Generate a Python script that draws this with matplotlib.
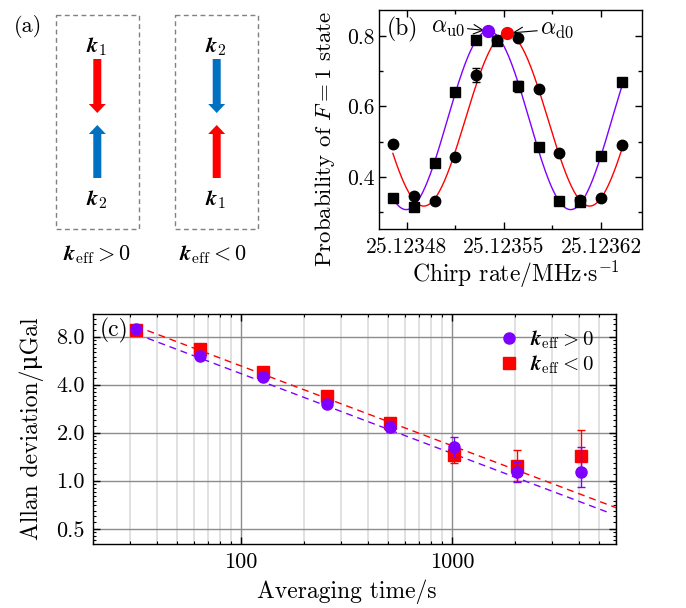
import numpy as np
import matplotlib.pyplot as plt
from matplotlib import patches
from matplotlib.lines import Line2D
from matplotlib.ticker import FixedLocator, MultipleLocator, NullFormatter, FormatStrFormatter, LogLocator

plt.rcParams['font.family'] = ['cmr10', 'DejaVu Serif']
plt.rcParams['mathtext.fontset'] = 'cm'
plt.rcParams['axes.unicode_minus'] = False
plt.rcParams['axes.formatter.use_mathtext'] = True

RED = '#ff0000'
BLUE = '#0070c0'
PURPLE = '#7f00ff'

# (b) chirp scan, F=1 population for both k_eff directions
chirp_rate = [25.12347, 25.123485, 25.12350, 25.123515, 25.12353, 25.123545,
              25.12356, 25.123575, 25.12359, 25.123605, 25.12362, 25.123635]
prob_up = [0.341, 0.315, 0.439, 0.641, 0.788, 0.784, 0.657, 0.485, 0.330, 0.329, 0.460, 0.669]
prob_up_err = [0, 0, 0, 0, 0, 0, 0.016, 0, 0, 0, 0, 0]
prob_down = [0.493, 0.345, 0.330, 0.456, 0.689, 0.788, 0.793, 0.648, 0.467, 0.334, 0.340, 0.489]
prob_down_err = [0, 0, 0, 0, 0.02, 0, 0, 0, 0, 0, 0, 0]

# cosine fits: centre, period, amplitude, offset
fit_up = (25.1235388, 11.85e-5, 0.2535, 0.5605)
fit_down = (25.1235520, 11.95e-5, 0.2450, 0.5620)

# (c) Allan deviation
tau = [32, 64, 128, 256, 512, 1024, 2048, 4096]
adev_up = [8.9, 6.08, 4.45, 3.02, 2.18, 1.63, 1.14, 1.14]
adev_up_lo = [0.1, 0.1, 0.1, 0.1, 0.16, 0.22, 0.16, 0.22]
adev_up_hi = [0.1, 0.1, 0.1, 0.1, 0.20, 0.24, 0.17, 0.49]
adev_down = [8.8, 6.67, 4.83, 3.41, 2.29, 1.46, 1.24, 1.43]
adev_down_lo = [0.1, 0.1, 0.1, 0.1, 0.15, 0.16, 0.25, 0.25]
adev_down_hi = [0.1, 0.1, 0.1, 0.1, 0.19, 0.15, 0.31, 0.64]

# tau^-1/2 fits: sigma = A / sqrt(tau), drawn over [t0, t1]
white_up = (47.0, 32, 5450)
white_down = (52.5, 32, 6200)

fig = plt.figure(figsize=(6.86, 6.08), dpi=100)

# ---- (a) beam configuration sketch, drawn in pixel units ----
ax0 = fig.add_axes([0, 0, 1, 1])
ax0.set_xlim(0, 686)
ax0.set_ylim(608, 0)
ax0.set_axis_off()
ax0.patch.set_visible(False)

ax0.text(28, 26, '(a)', fontsize=16, ha='center', va='center')
for x0 in (55.7, 174.7):
    ax0.add_patch(patches.Rectangle((x0, 14.7), 83, 214.3, fill=False, ec='#808080',
                                    lw=1.0, ls=(0, (3.5, 2.5))))

arrow_kw = dict(width=8, head_width=17, head_length=9, length_includes_head=True, lw=0)
# k_eff > 0: k1 downward (red), k2 upward (blue)
ax0.arrow(97.3, 59, 0, 54, color=RED, **arrow_kw)
ax0.arrow(97.3, 178, 0, -53, color=BLUE, **arrow_kw)
# k_eff < 0: k2 downward (blue), k1 upward (red)
ax0.arrow(216.7, 59, 0, 54, color=BLUE, **arrow_kw)
ax0.arrow(216.7, 178, 0, -53, color=RED, **arrow_kw)

klab = dict(fontsize=16, ha='center', va='center')
ax0.text(97, 47, r'$\mathbfit{k}_1$', **klab)
ax0.text(97, 200, r'$\mathbfit{k}_2$', **klab)
ax0.text(216, 47, r'$\mathbfit{k}_2$', **klab)
ax0.text(216, 200, r'$\mathbfit{k}_1$', **klab)
ax0.text(97, 255, r'$\mathbfit{k}_{\mathrm{eff}}>0$', **klab)
ax0.text(213, 255, r'$\mathbfit{k}_{\mathrm{eff}}<0$', **klab)

# ---- (b) chirp-rate scan ----
axb = fig.add_axes([379 / 686, 1 - 229 / 608, 263 / 686, 219 / 608])
xs = np.linspace(chirp_rate[0], chirp_rate[-1], 400)
for (c, p, a, o), col in ((fit_up, PURPLE), (fit_down, RED)):
    axb.plot(xs, o + a * np.cos(2 * np.pi * (xs - c) / p), color=col, lw=1.0, zorder=2)

axb.errorbar(chirp_rate, prob_up, yerr=prob_up_err, fmt='s', color='black', ms=6.8,
             capsize=3, elinewidth=1, zorder=3)
axb.errorbar(chirp_rate, prob_down, yerr=prob_down_err, fmt='o', color='black', ms=7.5,
             capsize=3, elinewidth=1, zorder=3)

# fitted central fringe positions
au = (fit_up[0], fit_up[2] + fit_up[3])
ad = (fit_down[0], fit_down[2] + fit_down[3])
axb.plot(*au, 'o', color=PURPLE, ms=8.5, zorder=4)
axb.plot(*ad, 'o', color=RED, ms=8.5, zorder=4)
axb.annotate(r'$\alpha_{\mathrm{u0}}$', xy=au, xytext=(-17, 3), textcoords='offset points',
             fontsize=17, ha='right', va='center',
             arrowprops=dict(arrowstyle='->', color='black', lw=0.8, shrinkA=0, shrinkB=3))
axb.annotate(r'$\alpha_{\mathrm{d0}}$', xy=ad, xytext=(24, 3), textcoords='offset points',
             fontsize=17, ha='left', va='center',
             arrowprops=dict(arrowstyle='->', color='black', lw=0.8, shrinkA=0, shrinkB=4))
axb.text(0.03, 0.97, '(b)', transform=axb.transAxes, fontsize=17, ha='left', va='top')

axb.set_xlim(25.12346, 25.1236495)
axb.set_ylim(0.252, 0.873)
axb.xaxis.set_major_locator(FixedLocator([25.12348, 25.12355, 25.12362]))
axb.xaxis.set_major_formatter(FormatStrFormatter('%.5f'))
axb.xaxis.set_minor_locator(FixedLocator([25.123515, 25.123585]))
axb.yaxis.set_major_locator(MultipleLocator(0.2))
axb.yaxis.set_major_formatter(FormatStrFormatter('%.1f'))
axb.yaxis.set_minor_locator(MultipleLocator(0.1))
axb.tick_params(which='both', direction='in', top=True, right=True, labelsize=15.5)
axb.tick_params(axis='x', which='major', pad=6)
axb.tick_params(which='major', length=5, width=1)
axb.tick_params(which='minor', length=3, width=1)
axb.set_xlabel(r'Chirp rate/MHz$\cdot$s$^{-1}$', fontsize=17)
axb.set_ylabel(r'Probability of $F=1$ state', fontsize=16.5)
axb.xaxis.set_label_coords(0.52, -0.135)
axb.yaxis.set_label_coords(-0.16, 0.41)
for s in axb.spines.values():
    s.set_linewidth(1.0)

# ---- (c) Allan deviation ----
axc = fig.add_axes([93.3 / 686, 1 - 543.7 / 608, 522.7 / 686, 229.7 / 608])
axc.set_xscale('log')
axc.set_yscale('log', base=2)

for (amp, t0, t1), col in ((white_down, RED), (white_up, PURPLE)):
    tt = np.array([t0, t1], dtype=float)
    axc.plot(tt, amp / np.sqrt(tt), color=col, lw=1.0, ls=(0, (5, 3.5)), zorder=3)

axc.errorbar(tau, adev_down, yerr=[adev_down_lo, adev_down_hi], fmt='s', color=RED, ms=8,
             capsize=3, elinewidth=1, zorder=4)
axc.errorbar(tau, adev_up, yerr=[adev_up_lo, adev_up_hi], fmt='o', color=PURPLE, ms=8,
             capsize=3, elinewidth=1, zorder=5)

legend_handles = [
    Line2D([], [], ls='none', marker='o', ms=8, color=PURPLE, label=r'$\mathbfit{k}_{\mathrm{eff}}>0$'),
    Line2D([], [], ls='none', marker='s', ms=8, color=RED, label=r'$\mathbfit{k}_{\mathrm{eff}}<0$'),
]
axc.legend(handles=legend_handles, loc='upper right', bbox_to_anchor=(0.985, 1.0),
           frameon=False, fontsize=15, handlelength=1.0, handletextpad=0.5,
           labelspacing=0.1, borderaxespad=0.3)

axc.text(0.012, 0.985, '(c)', transform=axc.transAxes, fontsize=17, ha='left', va='top')

axc.set_xlim(20, 6000)
axc.set_ylim(0.403, 11.1)
axc.xaxis.set_major_locator(FixedLocator([100, 1000]))
axc.xaxis.set_major_formatter(FormatStrFormatter('%d'))
axc.xaxis.set_minor_locator(LogLocator(base=10, subs=np.arange(2, 10)))
axc.xaxis.set_minor_formatter(NullFormatter())
axc.yaxis.set_major_locator(FixedLocator([0.5, 1, 2, 4, 8]))
axc.yaxis.set_major_formatter(FormatStrFormatter('%.1f'))
axc.yaxis.set_minor_locator(LogLocator(base=2, subs=np.arange(1.1, 2.0, 0.1)))
axc.yaxis.set_minor_formatter(NullFormatter())
axc.grid(which='major', color='#8c8c8c', lw=1.0, zorder=0)
axc.grid(which='minor', axis='x', color='#d9d9d9', lw=1.1, zorder=0)
axc.set_axisbelow(True)
axc.tick_params(which='both', direction='in', top=True, right=True, labelsize=16)
axc.tick_params(which='major', length=5, width=1, pad=6)
axc.tick_params(which='minor', length=2.5, width=0.8)
axc.set_xlabel('Averaging time/s', fontsize=17)
axc.set_ylabel('Allan deviation/μGal', fontsize=17)
axc.xaxis.set_label_coords(0.485, -0.155)
axc.yaxis.set_label_coords(-0.094, 0.5)
for s in axc.spines.values():
    s.set_linewidth(1.0)

fig.savefig('out.png', dpi=100)
